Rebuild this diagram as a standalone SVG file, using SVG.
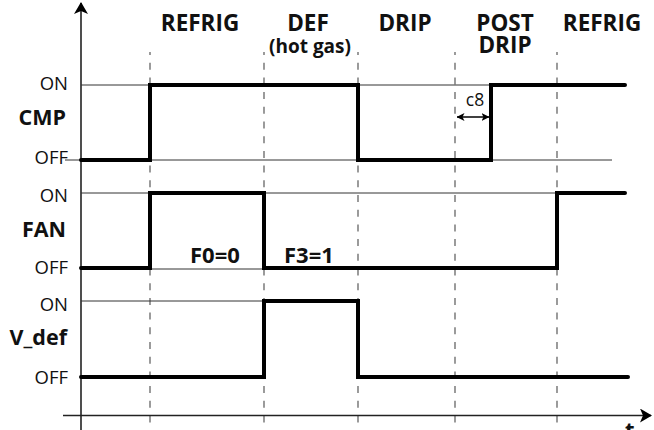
<svg xmlns="http://www.w3.org/2000/svg" width="654" height="430" viewBox="0 0 654 430">
<style>
.bg{fill:#fff}
.hdr{font-family:"Open Sans","Liberation Sans",sans-serif;font-weight:bold;font-size:22.5px;fill:#111;text-anchor:middle}
.sub{font-family:"Open Sans","Liberation Sans",sans-serif;font-weight:bold;font-size:19px;fill:#111;text-anchor:middle}
.lvl{font-family:"Open Sans","Liberation Sans",sans-serif;font-size:18.5px;fill:#111;text-anchor:end}
.sig{font-family:"Open Sans","Liberation Sans",sans-serif;font-weight:bold;font-size:21.5px;fill:#111;text-anchor:end}
.par{font-family:"Open Sans","Liberation Sans",sans-serif;font-weight:bold;font-size:22px;fill:#111}
.c8{font-family:"Open Sans","Liberation Sans",sans-serif;font-size:17.5px;fill:#111;text-anchor:middle}
.dash{stroke:#666;stroke-width:1.3;stroke-dasharray:7 7.7;stroke-dashoffset:4;fill:none}
.thin{stroke:#333;stroke-width:1;fill:none}
.wave{stroke:#000;stroke-width:4;fill:none;stroke-linejoin:miter;stroke-linecap:round}
.axis{stroke:#222;stroke-width:1.6;fill:none}
</style>
<defs>
<marker id="ah" viewBox="0 0 12 14" refX="11" refY="7" markerWidth="12" markerHeight="14" markerUnits="userSpaceOnUse" orient="auto">
<path d="M0,0 L12,7 L0,14 L3,7 Z" fill="#000"/>
</marker>
<marker id="sh" viewBox="0 0 8 8" refX="7.5" refY="4" markerWidth="8" markerHeight="8" markerUnits="userSpaceOnUse" orient="auto-start-reverse">
<path d="M0,0 L8,4 L0,8 L2,4 Z" fill="#000"/>
</marker>
</defs>
<rect class="bg" x="0" y="0" width="654" height="430"/>

<g id="phase-lines">
<line class="dash" x1="150" y1="52" x2="150" y2="430"/>
<line class="dash" x1="264" y1="52" x2="264" y2="430"/>
<line class="dash" x1="358" y1="52" x2="358" y2="430"/>
<line class="dash" x1="455" y1="52" x2="455" y2="430"/>
<line class="dash" x1="557" y1="52" x2="557" y2="430"/>
</g>

<g id="headers">
<text class="hdr" x="200" y="31">REFRIG</text>
<text class="hdr" x="308" y="31">DEF</text>
<text class="sub" x="310" y="53">(hot gas)</text>
<text class="hdr" x="405" y="31">DRIP</text>
<text class="hdr" x="505"><tspan x="505" y="31">POST</tspan><tspan x="505" y="53">DRIP</tspan></text>
<text class="hdr" x="602" y="31">REFRIG</text>
</g>

<g id="axes">
<line class="axis" x1="81" y1="430" x2="81" y2="3" marker-end="url(#ah)"/>
<line class="axis" x1="63" y1="415.5" x2="651" y2="415.5" marker-end="url(#ah)"/>
<text class="par" x="625" y="438" font-size="18">t</text>
</g>

<g id="cmp">
<line class="thin" x1="81" y1="85" x2="625" y2="85"/>
<line class="thin" x1="65" y1="160" x2="612" y2="160"/>
<text class="lvl" x="68" y="90">ON</text>
<text class="sig" x="66" y="125">CMP</text>
<text class="lvl" x="68" y="164">OFF</text>
<polyline class="wave" points="81,160 150,160 150,85 358,85 358,160 491,160 491,85 625,85"/>
</g>

<g id="c8">
<line x1="457" y1="117" x2="489" y2="117" stroke="#000" stroke-width="1.5" marker-start="url(#sh)" marker-end="url(#sh)"/>
<text class="c8" x="475" y="106">c8</text>
</g>

<g id="fan">
<line class="thin" x1="81" y1="193" x2="557" y2="193"/>
<line class="thin" x1="81" y1="269" x2="557" y2="269"/>
<text class="lvl" x="68" y="202">ON</text>
<text class="sig" x="66" y="237">FAN</text>
<text class="lvl" x="68" y="274">OFF</text>
<polyline class="wave" points="81,268 150,268 150,193 264,193 264,268 557,268 557,193 625,193"/>
<text class="par" x="190" y="263">F0=0</text>
<text class="par" x="284" y="263">F3=1</text>
</g>

<g id="vdef">
<line class="thin" x1="81" y1="301" x2="264" y2="301"/>
<text class="lvl" x="68" y="311">ON</text>
<text class="sig" x="67" y="345">V_def</text>
<text class="lvl" x="68" y="384">OFF</text>
<polyline class="wave" points="81,377 264,377 264,301 358,301 358,377 628,377"/>
</g>
</svg>
